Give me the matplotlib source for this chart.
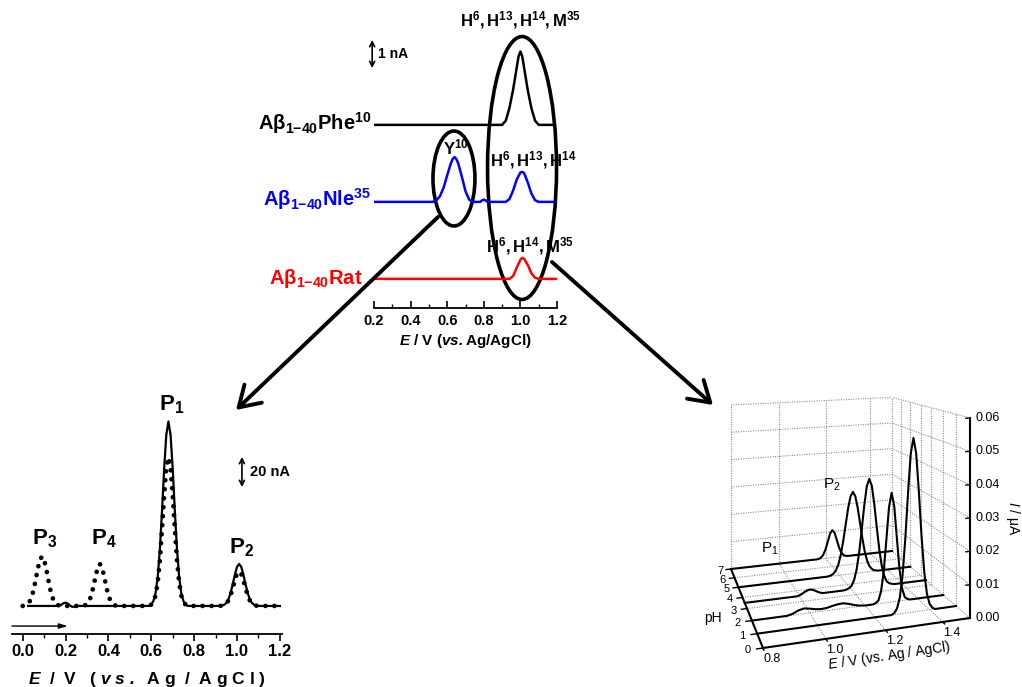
import numpy as np
import matplotlib
matplotlib.use("Agg")
import matplotlib.pyplot as plt
from matplotlib.patches import Ellipse

plt.rcParams['font.family'] = ['Liberation Sans', 'DejaVu Sans']
plt.rcParams['mathtext.fontset'] = 'custom'
plt.rcParams['mathtext.rm'] = 'Liberation Sans'
plt.rcParams['mathtext.it'] = 'Liberation Sans:italic'
plt.rcParams['mathtext.bf'] = 'Liberation Sans:bold'
try:
    plt.rcParams['mathtext.bfit'] = 'Liberation Sans:bold:italic'
except KeyError:
    pass

# ---------------- data: top panel (nA vs V) ----------------
top_ticks = [0.2, 0.4, 0.6, 0.8, 1.0, 1.2]
phe_E = [0.20, 0.90, 0.92, 0.94, 0.96, 0.98, 0.99, 1.00, 1.01, 1.02, 1.04, 1.06, 1.08, 1.10, 1.19]
phe_I = [0, 0, 0.15, 0.6, 1.25, 2.05, 2.45, 2.62, 2.45, 2.05, 1.25, 0.6, 0.15, 0, 0]
nle_E = [0.20, 0.52, 0.54, 0.56, 0.58, 0.60, 0.62, 0.63, 0.64, 0.65, 0.66, 0.68, 0.70, 0.72, 0.74,
         0.78, 0.79, 0.80, 0.81, 0.82, 0.92, 0.94, 0.96, 0.98, 1.00, 1.01, 1.02, 1.04, 1.06, 1.08, 1.10, 1.19]
nle_I = [0, 0, 0.05, 0.2, 0.5, 0.95, 1.38, 1.53, 1.6, 1.53, 1.38, 0.9, 0.38, 0.08, 0,
         0, 0.05, 0.08, 0.05, 0, 0, 0.1, 0.4, 0.8, 1.05, 1.07, 1.03, 0.7, 0.3, 0.06, 0, 0]
rat_E = [0.20, 0.94, 0.96, 0.98, 1.00, 1.01, 1.02, 1.04, 1.06, 1.08, 1.10, 1.20]
rat_I = [0, 0, 0.1, 0.4, 0.68, 0.75, 0.72, 0.5, 0.2, 0.04, 0, 0]

# ---------------- data: bottom-left panel (nA vs V) ----------------
bl_ticks = [0.0, 0.2, 0.4, 0.6, 0.8, 1.0, 1.2]
solid_E = [0.025, 0.17, 0.18, 0.19, 0.20, 0.21, 0.22, 0.23, 0.24, 0.26, 0.59,
           0.60, 0.61, 0.62, 0.63, 0.64, 0.65, 0.66, 0.67, 0.68, 0.69, 0.70, 0.71, 0.72, 0.73, 0.74, 0.75, 0.76, 0.77,
           0.92, 0.93, 0.94, 0.95, 0.96, 0.97, 0.98, 0.99, 1.00, 1.01, 1.02, 1.03, 1.04, 1.05, 1.06, 1.07, 1.08, 1.09, 1.10,
           1.20]
solid_I = [0, 0, 0.8, 1.8, 2.2, 1.6, 0.4, -0.5, -0.6, 0, 0,
           1.1, 3.3, 8.6, 19.3, 37.6, 63, 91.5, 114, 123, 114, 91.5, 63, 37.6, 19.3, 8.6, 3.3, 1.1, 0,
           0, 0.25, 0.75, 2.0, 4.4, 8.6, 14.4, 20.8, 26, 28, 26, 20.8, 14.4, 8.6, 4.4, 2.0, 0.75, 0.25, 0,
           0]
dot_E = [0.00, 0.01, 0.02, 0.03, 0.04, 0.05, 0.06, 0.07, 0.08, 0.09, 0.10, 0.11, 0.12, 0.13, 0.14, 0.15, 0.16, 0.17, 0.18,
         0.27, 0.28, 0.29, 0.30, 0.31, 0.32, 0.33, 0.34, 0.35, 0.36, 0.37, 0.38, 0.39, 0.40, 0.41, 0.42, 0.43, 0.44, 0.45,
         0.59, 0.60, 0.61, 0.62, 0.63, 0.64, 0.65, 0.66, 0.67, 0.68, 0.69, 0.70, 0.71, 0.72, 0.73, 0.74, 0.75, 0.76, 0.77,
         0.92, 0.93, 0.94, 0.95, 0.96, 0.97, 0.98, 0.99, 1.00, 1.01, 1.02, 1.03, 1.04, 1.05, 1.06, 1.07, 1.08, 1.09, 1.10,
         1.20]
dot_I = [0, 0.3, 0.9, 2.3, 5.2, 10.1, 17, 24.6, 30.7, 33, 30.7, 24.6, 17, 10.1, 5.2, 2.3, 0.9, 0.3, 0,
         0, 0.1, 0.4, 1.2, 3.2, 7.0, 12.8, 19.8, 25.7, 28, 25.7, 19.8, 12.8, 7.0, 3.2, 1.2, 0.4, 0.1, 0,
         0, 0.9, 2.7, 6.9, 15.5, 30.3, 50.9, 73.7, 92, 99, 92, 73.7, 50.9, 30.3, 15.5, 6.9, 2.7, 0.9, 0,
         0, 0.2, 0.6, 1.6, 3.6, 7.0, 11.8, 17.1, 21.4, 23, 21.4, 17.1, 11.8, 7.0, 3.6, 1.6, 0.6, 0.2, 0,
         0]

# ---------------- data: 3-D panel (uA vs V, per pH) ----------------
e3_ticks = [0.8, 1.0, 1.2, 1.4]
ph3_ticks = [0, 1, 2, 3, 4, 5, 6, 7]
i3_ticks = [0.00, 0.01, 0.02, 0.03, 0.04, 0.05, 0.06]
trace_pH = [7.0, 5.0, 3.5, 2.0, 1.0]
E_pH7 = [0.80, 1.16, 1.17, 1.18, 1.19, 1.20, 1.21, 1.22, 1.23, 1.24, 1.25, 1.26, 1.27, 1.28, 1.29, 1.30, 1.50]
I_pH7 = [0, 0, 0.0001, 0.0005, 0.0015, 0.0035, 0.0064, 0.0093, 0.0105, 0.0093, 0.0064, 0.0035, 0.0015, 0.0005, 0.0001, 0, 0]
E_pH5 = [0.80, 1.15, 1.155, 1.165, 1.175, 1.185, 1.195, 1.205, 1.215, 1.225, 1.235, 1.245, 1.255,
         1.265, 1.275, 1.285, 1.295, 1.305, 1.315, 1.325, 1.335, 1.345, 1.355, 1.36, 1.50]
I_pH5 = [0, 0, 0.0001, 0.0003, 0.0008, 0.0019, 0.0039, 0.0072, 0.0120, 0.0177, 0.0233, 0.0275, 0.0291,
         0.0275, 0.0233, 0.0177, 0.0120, 0.0072, 0.0039, 0.0019, 0.0008, 0.0003, 0.0001, 0, 0]
E_pH35 = [0.80, 0.99, 1.00, 1.01, 1.02, 1.03, 1.04, 1.05, 1.06, 1.07, 1.08, 1.09,
          1.17, 1.18, 1.19, 1.20, 1.21, 1.22, 1.23, 1.24, 1.25, 1.26, 1.27, 1.28, 1.29, 1.30,
          1.31, 1.32, 1.33, 1.34, 1.35, 1.36, 1.37, 1.38, 1.50]
I_pH35 = [0, 0, 0.0002, 0.0006, 0.0011, 0.0015, 0.0017, 0.0015, 0.0011, 0.0006, 0.0002, 0,
          0, 0.0002, 0.0005, 0.0012, 0.0031, 0.0065, 0.0122, 0.0197, 0.0277, 0.0341, 0.0365, 0.0341, 0.0277, 0.0197,
          0.0122, 0.0065, 0.0031, 0.0012, 0.0005, 0.0002, 0, 0, 0]
E_pH2 = [0.80, 0.92, 0.94, 0.96, 0.98, 1.00, 1.02, 1.04, 1.06, 1.08, 1.10, 1.12, 1.14, 1.16, 1.18, 1.20,
         1.23, 1.24, 1.25, 1.26, 1.27, 1.28, 1.29, 1.30, 1.31, 1.32, 1.33, 1.34, 1.35, 1.36, 1.37, 1.38, 1.50]
I_pH2 = [0, 0, 0.0004, 0.0012, 0.0016, 0.0013, 0.0009, 0.0007, 0.0008, 0.0012, 0.0015, 0.0016, 0.0012, 0.0006, 0.0002, 0,
         0, 0.0003, 0.0010, 0.0038, 0.0100, 0.0200, 0.0303, 0.0348, 0.0303, 0.0200, 0.0100, 0.0038, 0.0010, 0.0003, 0, 0, 0]
E_pH1 = [0.80, 1.26, 1.27, 1.28, 1.29, 1.30, 1.31, 1.32, 1.33, 1.34, 1.35, 1.36, 1.37, 1.38, 1.39, 1.40, 1.41, 1.42, 1.50]
I_pH1 = [0, 0, 0.0005, 0.0018, 0.0050, 0.0118, 0.0228, 0.0367, 0.0487, 0.0535, 0.0487, 0.0367, 0.0228, 0.0118,
         0.0050, 0.0018, 0.0005, 0, 0]
traces3d = [(E_pH7, I_pH7), (E_pH5, I_pH5), (E_pH35, I_pH35), (E_pH2, I_pH2), (E_pH1, I_pH1)]

# ---------------- figure ----------------
W, H = 1022, 687
fig = plt.figure(figsize=(W / 100, H / 100), dpi=100)


def box(x0, y0, x1, y1):
    return [x0 / W, 1 - y1 / H, (x1 - x0) / W, (y1 - y0) / H]


def strip(ax):
    for s in ('left', 'right', 'top'):
        ax.spines[s].set_visible(False)
    ax.spines['bottom'].set_linewidth(1.3)
    ax.set_yticks([])
    ax.patch.set_visible(False)


# ---- top panel ----
TOP_PX_PER_NA = 28.0
ax1 = fig.add_axes(box(374, 10, 557, 308))
ax1.set_xlim(0.2, 1.2)
ax1.set_ylim(0, 298 / TOP_PX_PER_NA)
strip(ax1)
off_phe, off_nle, off_rat = 6.54, 3.79, 1.04
ax1.plot(phe_E, np.array(phe_I) + off_phe, color='black', lw=1.8, solid_capstyle='butt')
ax1.plot(nle_E, np.array(nle_I) + off_nle, color='#0000ff', lw=1.8, solid_capstyle='butt')
ax1.plot(rat_E, np.array(rat_I) + off_rat, color='#ff0000', lw=1.8, solid_capstyle='butt')
ax1.set_xticks(top_ticks)
ax1.set_xticklabels([f"{t:.1f}" for t in top_ticks], fontweight='bold', fontsize=10.5)
ax1.set_xticks([0.3, 0.5, 0.7, 0.9, 1.1], minor=True)
ax1.tick_params(axis='x', which='major', direction='in', length=5, width=1.2, pad=4)
ax1.tick_params(axis='x', which='minor', direction='in', length=3, width=1.0)
ax1.set_xlabel(r"$\mathbfit{E}$ / V ($\mathbfit{vs.}$Ag/AgCl)", fontweight='bold', fontsize=11, labelpad=3)

ax1.add_patch(Ellipse((1.009, 5.0), 0.377, 9.39, fill=False, lw=2.6, ec='black', clip_on=False))
ax1.add_patch(Ellipse((0.637, 4.625), 0.2295, 3.39, fill=False, lw=2.6, ec='black', clip_on=False))

ax1.text(0.185, off_phe - 0.18, r"$\mathbf{Aβ_{1{-}40}Phe^{10}}$", ha='right', va='baseline',
         fontsize=14.5, color='black', clip_on=False)
ax1.text(0.185, off_nle - 0.15, r"$\mathbf{Aβ_{1{-}40}Nle^{35}}$", ha='right', va='baseline',
         fontsize=14.5, color='#0000ff', clip_on=False)
ax1.text(0.137, off_rat - 0.2, r"$\mathbf{Aβ_{1{-}40}Rat}$", ha='right', va='baseline',
         fontsize=14.5, color='#ff0000', clip_on=False)

ax1.text(1.0, 10.3, r"$\mathbf{H^{6}, H^{13}, H^{14}, M^{35}}$", ha='center', va='center', fontsize=12)
ax1.text(0.645, 5.75, r"$\mathbf{Y^{10}}$", ha='center', va='center', fontsize=12)
ax1.text(1.07, 5.3, r"$\mathbf{H^{6}, H^{13}, H^{14}}$", ha='center', va='center', fontsize=12)
ax1.text(1.05, 2.2, r"$\mathbf{H^{6}, H^{14}, M^{35}}$", ha='center', va='center', fontsize=12)

ax1.annotate('', xy=(0.19, 9.57), xytext=(0.19, 8.57),
             arrowprops=dict(arrowstyle='<->,head_length=0.35,head_width=0.18', lw=1.2, color='black',
                             shrinkA=0, shrinkB=0), annotation_clip=False)
ax1.text(0.222, 9.07, "1 nA", fontweight='bold', fontsize=10, ha='left', va='center')

# ---- bottom-left panel ----
BL_PX_PER_NA = 1.5
ax2 = fig.add_axes(box(12, 395, 282, 634))
ax2.set_xlim(-0.05, 1.21)
ax2.set_ylim(-18.7, -18.7 + 239 / BL_PX_PER_NA)
strip(ax2)
ax2.plot(dot_E, dot_I, color='black', lw=3.4, linestyle=(0, (0.01, 1.9)), dash_capstyle='round', zorder=2)
ax2.plot(solid_E, solid_I, color='black', lw=1.6, zorder=3)
ax2.set_xticks(bl_ticks)
ax2.set_xticklabels([f"{t:.1f}" for t in bl_ticks], fontweight='bold', fontsize=12)
ax2.set_xticks([0.1, 0.3, 0.5, 0.7, 0.9, 1.1], minor=True)
ax2.tick_params(axis='x', which='major', direction='out', length=5, width=1.2, pad=2)
ax2.tick_params(axis='x', which='minor', direction='out', length=3, width=1.0)
ax2.set_xlabel(r"$\mathbfit{E}$  /  V   ( $\mathbfit{v\ s\ .}$  A g  /  A g C l )",
               fontweight='bold', fontsize=12.5, labelpad=8)

ax2.annotate('', xy=(0.21, -13.4), xytext=(-0.05, -13.4),
             arrowprops=dict(arrowstyle='-|>,head_length=0.5,head_width=0.15', lw=1.0, color='black',
                             shrinkA=0, shrinkB=0), annotation_clip=False)
ax2.annotate('', xy=(1.023, 99.3), xytext=(1.023, 79.3),
             arrowprops=dict(arrowstyle='<->,head_length=0.35,head_width=0.18', lw=1.2, color='black',
                             shrinkA=0, shrinkB=0))
ax2.text(1.06, 89.3, "20 nA", fontweight='bold', fontsize=10.5, ha='left', va='center')
ax2.text(0.695, 134, r"$\mathbf{P}_{\mathbf{1}}$", ha='center', va='center', fontsize=16)
ax2.text(0.10, 45, r"$\mathbf{P}_{\mathbf{3}}$", ha='center', va='center', fontsize=16)
ax2.text(0.38, 45, r"$\mathbf{P}_{\mathbf{4}}$", ha='center', va='center', fontsize=16)
ax2.text(1.02, 39, r"$\mathbf{P}_{\mathbf{2}}$", ha='center', va='center', fontsize=16)

# ---- 3-D panel (projective view on a pixel-space overlay) ----
ax3 = fig.add_axes([0, 0, 1, 1])
ax3.set_xlim(0, W)
ax3.set_ylim(H, 0)
ax3.axis('off')
ax3.patch.set_visible(False)

E_LO, E_HI, PH_LO, PH_HI, I_HI = 0.8, 1.5, 0.0, 7.0, 0.06
corners_px = [(763, 648), (970, 618), (731, 569), (892, 551)]   # floor corners (E lo/hi, pH lo/hi)
FRONT_HEIGHT_PX = 200.0


def homography(src, dst):
    rows, rhs = [], []
    for (u, v), (x, y) in zip(src, dst):
        rows.append([u, v, 1, 0, 0, 0, -u * x, -v * x]); rhs.append(x)
        rows.append([0, 0, 0, u, v, 1, -u * y, -v * y]); rhs.append(y)
    h = np.linalg.solve(np.array(rows, float), np.array(rhs, float))
    return np.append(h, 1.0).reshape(3, 3)


Hm = homography([(0, 0), (1, 0), (0, 1), (1, 1)], corners_px)
w_front = Hm[2] @ np.array([1.0, 0.0, 1.0])
kz = FRONT_HEIGHT_PX * w_front / I_HI


def proj(E, pH, I):
    E, pH, I = np.broadcast_arrays(np.asarray(E, float), np.asarray(pH, float), np.asarray(I, float))
    u = (E - E_LO) / (E_HI - E_LO)
    v = (pH - PH_LO) / (PH_HI - PH_LO)
    X = Hm[0, 0] * u + Hm[0, 1] * v + Hm[0, 2]
    Y = Hm[1, 0] * u + Hm[1, 1] * v + Hm[1, 2]
    Wd = Hm[2, 0] * u + Hm[2, 1] * v + Hm[2, 2]
    return X / Wd, (Y - kz * I) / Wd


grid_kw = dict(color='#8c8c8c', lw=0.8, linestyle=(0, (1.0, 1.2)))


def seg(p0, p1, **kw):
    x, y = proj([p0[0], p1[0]], [p0[1], p1[1]], [p0[2], p1[2]])
    ax3.plot(x, y, **kw)


# floor grid
for e in [1.0, 1.2, 1.4, E_HI]:
    seg((e, PH_LO, 0), (e, PH_HI, 0), **grid_kw)
for p in [1, 2, 3, 4, 5, 6, 7]:
    seg((E_LO, p, 0), (E_HI, p, 0), **grid_kw)
# back wall (pH = 7)
for e in [E_LO, 1.0, 1.2, 1.4, E_HI]:
    seg((e, PH_HI, 0), (e, PH_HI, I_HI), **grid_kw)
for i in i3_ticks[1:]:
    seg((E_LO, PH_HI, i), (E_HI, PH_HI, i), **grid_kw)
# right wall (E = 1.5)
for p in [1, 2, 3, 4, 5, 6]:
    seg((E_HI, p, 0), (E_HI, p, I_HI), **grid_kw)
for i in i3_ticks[1:]:
    seg((E_HI, PH_LO, i), (E_HI, PH_HI, i), **grid_kw)

# axes
ax_kw = dict(color='black', lw=1.5, solid_capstyle='projecting')
seg((E_LO, PH_LO, 0), (E_HI, PH_LO, 0), **ax_kw)
seg((E_LO, PH_LO, 0), (E_LO, PH_HI, 0), **ax_kw)
seg((E_HI, PH_LO, 0), (E_HI, PH_LO, I_HI), **ax_kw)

for p in ph3_ticks:
    seg((E_LO, p, 0), (E_LO - 0.02, p, 0), color='black', lw=1.0)
    x, y = proj(E_LO, p, 0)
    ax3.text(x - 11 - 0.6 * (7 - p), y + 2, str(p), ha='center', va='center', fontsize=8)
for e in e3_ticks:
    seg((e, PH_LO, 0), (e, PH_LO - 0.15, 0), color='black', lw=1.0)
    x, y = proj(e, PH_LO, 0)
    ax3.text(x + 9, y + 11, f"{e:.1f}", ha='center', va='center', fontsize=9)
for i in i3_ticks:
    seg((E_HI, PH_LO, i), (E_HI - 0.015, PH_LO, i), color='black', lw=1.0)
    x, y = proj(E_HI, PH_LO, i)
    ax3.text(x + 6, y, f"{i:.2f}", ha='left', va='center', fontsize=9)

# traces
for p, (e_vals, i_vals) in zip(trace_pH, traces3d):
    x, y = proj(e_vals, p, i_vals)
    ax3.plot(x, y, color='black', lw=1.5, solid_joinstyle='round')

x, y = proj(E_LO, PH_LO, 0)
ax3.text(x - 50, y - 30, "pH", fontsize=10, ha='center', va='center')
ax3.text(889, 656, r"$\mathit{E}$ / V (vs. Ag / AgCl)", fontsize=10, ha='center', va='center', rotation=8.5)
x, y = proj(E_HI, PH_LO, I_HI / 2)
ax3.text(x + 43, y, r"$\mathit{I}$ / μA", fontsize=10, ha='center', va='center', rotation=-90)
ax3.text(832, 485, r"P$_2$", fontsize=11, ha='center', va='center')
ax3.text(770, 549, r"P$_1$", fontsize=11, ha='center', va='center')

# connecting arrows
arrow_kw = dict(arrowstyle='->,head_length=0.8,head_width=0.5', lw=2.8, color='black',
                shrinkA=0, shrinkB=0, mutation_scale=18)
ax3.annotate('', xy=(236, 410), xytext=(438, 217), arrowprops=arrow_kw)
ax3.annotate('', xy=(713, 405), xytext=(552, 262), arrowprops=arrow_kw)

fig.savefig("out.png", dpi=100)
